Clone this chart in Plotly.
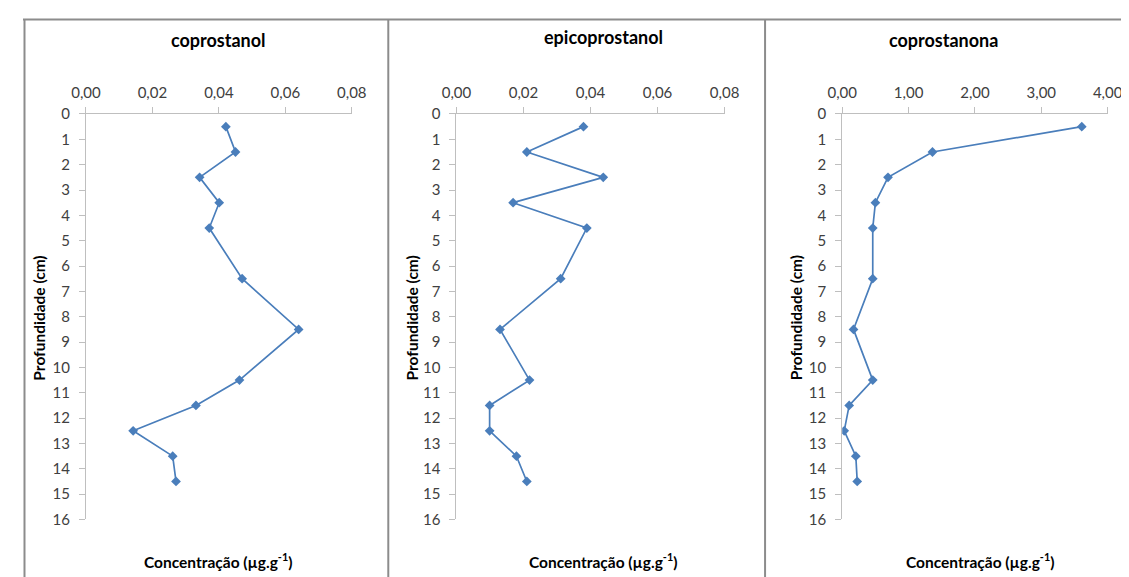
import plotly.graph_objects as go

depth = [0.5, 1.5, 2.5, 3.5, 4.5, 6.5, 8.5, 10.5, 11.5, 12.5, 13.5, 14.5]
coprostanol = [0.0421, 0.0450, 0.0342, 0.0401, 0.0371, 0.0470, 0.0640, 0.0462, 0.0331, 0.0142, 0.0261, 0.0271]
epicoprostanol = [0.0379, 0.0210, 0.0438, 0.0169, 0.0389, 0.0311, 0.0130, 0.0218, 0.0099, 0.0099, 0.0179, 0.0210]
coprostanona = [3.61, 1.36, 0.69, 0.50, 0.46, 0.46, 0.17, 0.46, 0.105, 0.03, 0.205, 0.226]

titles = ["coprostanol", "epicoprostanol", "coprostanona"]
series = [coprostanol, epicoprostanol, coprostanona]
xranges = [[0, 0.08], [0, 0.08], [0, 4.0]]
xdticks = [0.02, 0.02, 1.0]
ytitle = "Profundidade (cm)"
xtitle = "Concentração (µg.g<sup>-1</sup>)"

W, H = 1129, 577
# observed mapping of the rendered page onto the photo
OX, OY, SX, SY = 22.0, 17.0, 0.974, 0.969


def px(x):
    return ((x - OX) / SX) / W


def py(y):
    return 1 - ((y - OY) / SY) / H


plot_x = [(85, 351), (455.7, 724), (841.7, 1107.3)]
plot_y = (113, 518.6)
title_pos = [(217.5, 39), (602.5, 36), (943, 39)]
ytitle_x = [38, 411, 795]
xtitle_pos = [(217, 560), (602, 560), (980, 560)]

FONT = "Lato, 'Open Sans', sans-serif"
fig = go.Figure()
annotations = []
for i in range(3):
    sfx = "" if i == 0 else str(i + 1)
    fig.add_trace(go.Scatter(
        x=series[i], y=depth, mode="lines+markers",
        xaxis="x" + sfx, yaxis="y" + sfx,
        line=dict(color="#4a7ebb", width=1.7),
        marker=dict(symbol="diamond", size=7.5, color="#4a7ebb"),
        showlegend=False, hoverinfo="x+y",
    ))
    x0, x1 = plot_x[i]
    fig.layout["xaxis" + sfx] = dict(
        domain=[px(x0), px(x1)], range=xranges[i], side="top",
        anchor="y" + sfx, dtick=xdticks[i], tick0=0, tickformat=".2f",
        showgrid=False, zeroline=False, showline=True, linecolor="#bfbfbf",
        ticks="outside", ticklen=6, tickcolor="#bfbfbf", ticklabelstandoff=3,
        tickfont=dict(family=FONT, size=15, color="#404040"),
    )
    fig.layout["yaxis" + sfx] = dict(
        domain=[py(plot_y[1]), py(plot_y[0])], range=[16, 0],
        anchor="x" + sfx, dtick=1, tick0=0,
        showgrid=False, zeroline=False, showline=True, linecolor="#bfbfbf",
        ticks="outside", ticklen=6, tickcolor="#bfbfbf", ticklabelstandoff=6,
        tickfont=dict(family=FONT, size=15, color="#404040"),
    )
    tx, ty = title_pos[i]
    annotations.append(dict(text="<b>%s</b>" % titles[i], x=px(tx), y=py(ty),
                            xref="paper", yref="paper", showarrow=False,
                            font=dict(family=FONT, size=18, color="#000000"),
                            xanchor="center", yanchor="middle"))
    annotations.append(dict(text="<b>%s</b>" % ytitle, x=px(ytitle_x[i]),
                            y=py(316.7),
                            xref="paper", yref="paper", showarrow=False, textangle=-90,
                            font=dict(family=FONT, size=15.5, color="#000000"),
                            xanchor="center", yanchor="middle"))
    cx, cy = xtitle_pos[i]
    annotations.append(dict(text="<b>%s</b>" % xtitle, x=px(cx), y=py(cy),
                            xref="paper", yref="paper", showarrow=False,
                            font=dict(family=FONT, size=15.5, color="#000000"),
                            xanchor="center", yanchor="middle"))

top_y = py(18.5)
shapes = [dict(type="line", xref="paper", yref="paper", x0=0, x1=1.0, y0=top_y, y1=top_y,
               line=dict(color="#8c8c8c", width=2))]
for bx in [23.5, 387.5, 764.5]:
    shapes.append(dict(type="line", xref="paper", yref="paper", x0=px(bx), x1=px(bx),
                       y0=0, y1=top_y, line=dict(color="#8c8c8c", width=2)))

fig.update_layout(
    width=W, height=H, margin=dict(l=0, r=0, t=0, b=0),
    paper_bgcolor="white", plot_bgcolor="white",
    separators=",.", annotations=annotations, shapes=shapes,
    font=dict(family=FONT),
)
fig.write_html("out.html")
